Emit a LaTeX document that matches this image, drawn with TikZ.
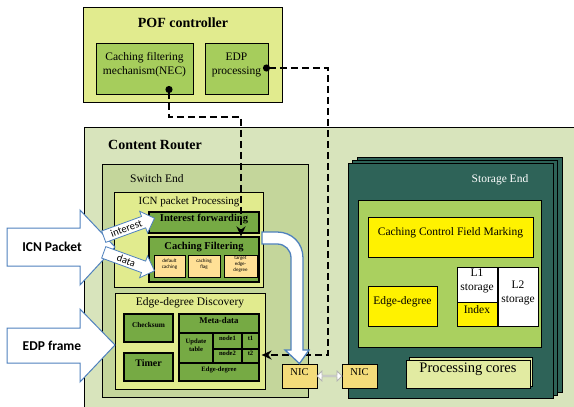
\documentclass[tikz,border=0pt]{standalone}
\usepackage{fontspec}
\setmainfont{Liberation Serif}
\newfontfamily\arrowfont{Carlito}
\usetikzlibrary{arrows.meta}
\usetikzlibrary{shapes.arrows}
\usetikzlibrary{fit}
\usetikzlibrary{calc}

\definecolor{palegreen}{RGB}{225,235,142}
\definecolor{leafgreen}{RGB}{166,205,92}
\definecolor{routergreen}{RGB}{216,228,188}
\definecolor{switchgreen}{RGB}{196,214,155}
\definecolor{darkleaf}{RGB}{118,170,68}
\definecolor{storeteal}{RGB}{46,99,88}
\definecolor{storeinner}{RGB}{170,208,95}
\definecolor{coregreen}{RGB}{226,235,162}
\definecolor{flagorange}{RGB}{255,224,150}
\definecolor{nicyellow}{RGB}{244,220,122}
\definecolor{arrowblue}{RGB}{79,129,189}

\begin{document}
\begin{tikzpicture}[x=1pt,y=-1pt,
  every node/.style={align=center,inner sep=0pt},
  box/.style={draw,line width=.8pt},
  pale/.style={box,fill=palegreen},
  leaf/.style={box,fill=leafgreen,font=\fontsize{11.5}{14}\selectfont},
  router/.style={box,fill=routergreen},
  switchbox/.style={box,fill=switchgreen},
  module/.style={box,line width=1.2pt,fill=darkleaf,font=\bfseries\fontsize{10.5}{12}\selectfont},
  cell/.style={module,font=\bfseries\fontsize{6.6}{8}\selectfont},
  flag/.style={box,fill=flagorange,font=\arrowfont\fontsize{5}{6.3}\selectfont},
  nic/.style={box,fill=nicyellow,font=\fontsize{10.5}{12}\selectfont},
  store/.style={box,fill=storeteal},
  yellowbox/.style={box,fill=yellow,font=\fontsize{11.5}{13.5}\selectfont},
  whitebox/.style={box,fill=white,font=\fontsize{11.5}{13.5}\selectfont},
  cores/.style={box,fill=coregreen,font=\fontsize{14.5}{16}\selectfont},
  title/.style={font=\bfseries\fontsize{14}{16}\selectfont},
  caption/.style={font=\fontsize{11.5}{13}\selectfont},
  bigarrow/.style={draw=arrowblue,line width=1pt,fill=white},
  biglabel/.style={font=\arrowfont\bfseries\fontsize{13.5}{15}\selectfont},
  smallarrow/.style={single arrow,draw=arrowblue,line width=.8pt,fill=white,
    single arrow tip angle=90,single arrow head extend=5.5pt,
    inner xsep=2pt,inner ysep=2pt,
    minimum height=54pt,font=\arrowfont\fontsize{10.5}{12}\selectfont},
  hollow/.style={draw=arrowblue,line width=1.3pt,fill=white},
  ctrl/.style={line width=2.3pt,dash pattern=on 7pt off 4pt,
    {Circle[length=7pt]}-{Stealth[length=10pt,width=9pt]}}]

  \useasboundingbox (0,0) rectangle (574,407);
  \clip (0,0) rectangle (574,407);

  % controller on top
  \node[pale,fit={(83,7)(282,102)}] (pof) {};
  \node[title] (poftitle) at (183,23) {POF controller};
  \node[leaf,fit={(96,43)(193,94)}] (nec) {Caching filtering\\mechanism(NEC)};
  \node[leaf,fit={(205,43)(268,94)}] (edp) {EDP\\processing};
  \coordinate (necdot) at (169,86);
  \coordinate (edpdot) at (263,68);

  % the router and its switch end
  \node[router,fit={(84,127)(600,430)}] (router) {};
  \node[title,anchor=west] (routertitle) at (108,145) {Content Router};
  \node[switchbox,fit={(102,164)(308,397)}] (switch) {};
  \node[caption,anchor=west] (switchtitle) at (130,179) {Switch End};

  \node[pale,fit={(114,192)(263,287)}] (icnproc) {};
  \node[caption,font=\fontsize{11}{13}\selectfont] (icntitle) at (189,202) {ICN packet Processing};
  \node[module,fit={(149,212)(259,233)}] (fwd) {Interest forwarding};
  \node[module,fit={(149,237)(259,282)}] (cf) {};
  \node[font=\bfseries\fontsize{10.5}{12}\selectfont] (cftitle) at (204,247) {Caching Filtering};
  \node[flag,fit={(154,255)(185,277)}] (defcache) {default\\caching};
  \node[flag,fit={(188,255)(220,277)}] (cflag) {caching\\flag};
  \node[flag,fit={(224,255)(257,277)}] (target) {target\\edge-\\degree};

  \node[pale,fit={(115,293)(265,389)}] (edd) {};
  \node[caption] (eddtitle) at (190,303) {Edge-degree Discovery};
  \node[cell,font=\bfseries\fontsize{7.3}{9}\selectfont,fit={(124,314)(173,342)}] (checksum) {Checksum};
  \node[module,font=\bfseries\fontsize{10}{12}\selectfont,fit={(124,353)(173,381)}] (timer) {Timer};
  \node[cell,font=\bfseries\fontsize{8.8}{10}\selectfont,fit={(179,314)(259,333)}] (meta) {Meta-data};
  \node[cell,fit={(179,333)(213,363)}] (update) {Update\\table};
  \node[cell,fit={(213,333)(242,349)}] (node1) {node1};
  \node[cell,fit={(242,333)(259,349)}] (t1) {t1};
  \node[cell,fit={(213,349)(242,363)}] (node2) {node2};
  \node[cell,fit={(242,349)(259,363)}] (t2) {t2};
  \node[cell,fit={(179,363)(259,381)}] (degree) {Edge-degree};

  % storage end, three sheets deep
  \node[store,fit={(357,157)(562,392)}] (store3) {};
  \node[store,fit={(352.5,160)(557.5,395)}] (store2) {};
  \node[store,fit={(348,163)(553,398)}] (storage) {};
  \node[caption,text=white] (storetitle) at (500,180) {Storage End};
  \node[box,fill=storeinner,fit={(358,200)(541,347)}] (inner) {};
  \node[yellowbox,fit={(368,217)(533,257)}] (marking) {Caching Control Field Marking};
  \node[yellowbox,fit={(368,286)(437,326)}] (sdegree) {Edge-degree};
  \node[whitebox,fit={(457,267)(497,302)}] (l1) {L1\\storage};
  \node[yellowbox,fit={(457,302)(497,326)}] (index) {Index};
  \node[whitebox,fit={(498,267)(538,326)}] (l2) {L2\\storage};
  \node[cores,fit={(409,357)(532,386)}] (coresback) {};
  \node[cores,fit={(406,360)(530,388)}] (cores) {Processing cores};

  % network cards
  \node[nic,fit={(282,364)(317,388)}] (nic1) {NIC};
  \node[nic,fit={(342,364)(377,388)}] (nic2) {NIC};
  \node[double arrow,draw=gray!60,line width=.8pt,fill=white,
    double arrow head extend=2.5pt,minimum width=10pt,minimum height=25pt]
    (niclink) at ($(nic1.east)!.5!(nic2.west)$) {};

  % incoming traffic
  \draw[bigarrow] (7,228) -- (80,228) -- (80,210) -- (115,247) -- (80,285) -- (80,266) -- (7,266) -- cycle;
  \node[biglabel] (icnlabel) at (52,247) {ICN Packet};
  \draw[bigarrow] (7,328) -- (80,328) -- (80,309) -- (115,345) -- (80,382) -- (80,363) -- (7,363) -- cycle;
  \node[biglabel] (edplabel) at (52,346) {EDP frame};
  \node[smallarrow,rotate=20,anchor=tip] (interest) at (155,218) {interest};
  \node[smallarrow,rotate=-20,anchor=tip] (data) at (155,271) {data};

  % control paths from the controller
  \coordinate (jog1) at (241,117);
  \coordinate (jog2) at (328,355);
  \draw[ctrl] (necdot) |- (jog1) -- (jog1 |- cf.north);
  \draw[ctrl] (edpdot) -| (jog2) -- ($(jog2 -| t2.east)+(2,0)$);

  % data path down to the NIC
  \draw[hollow] (262,232) -- (277,232) .. controls (292,232) and (303,243) .. (303,258)
    -- (303,350) -- (309,350) -- (nic1.north) -- (285,350) -- (291,350) -- (291,258)
    .. controls (291,250) and (285,244) .. (277,244) -- (262,244) -- cycle;
\end{tikzpicture}
\end{document}
